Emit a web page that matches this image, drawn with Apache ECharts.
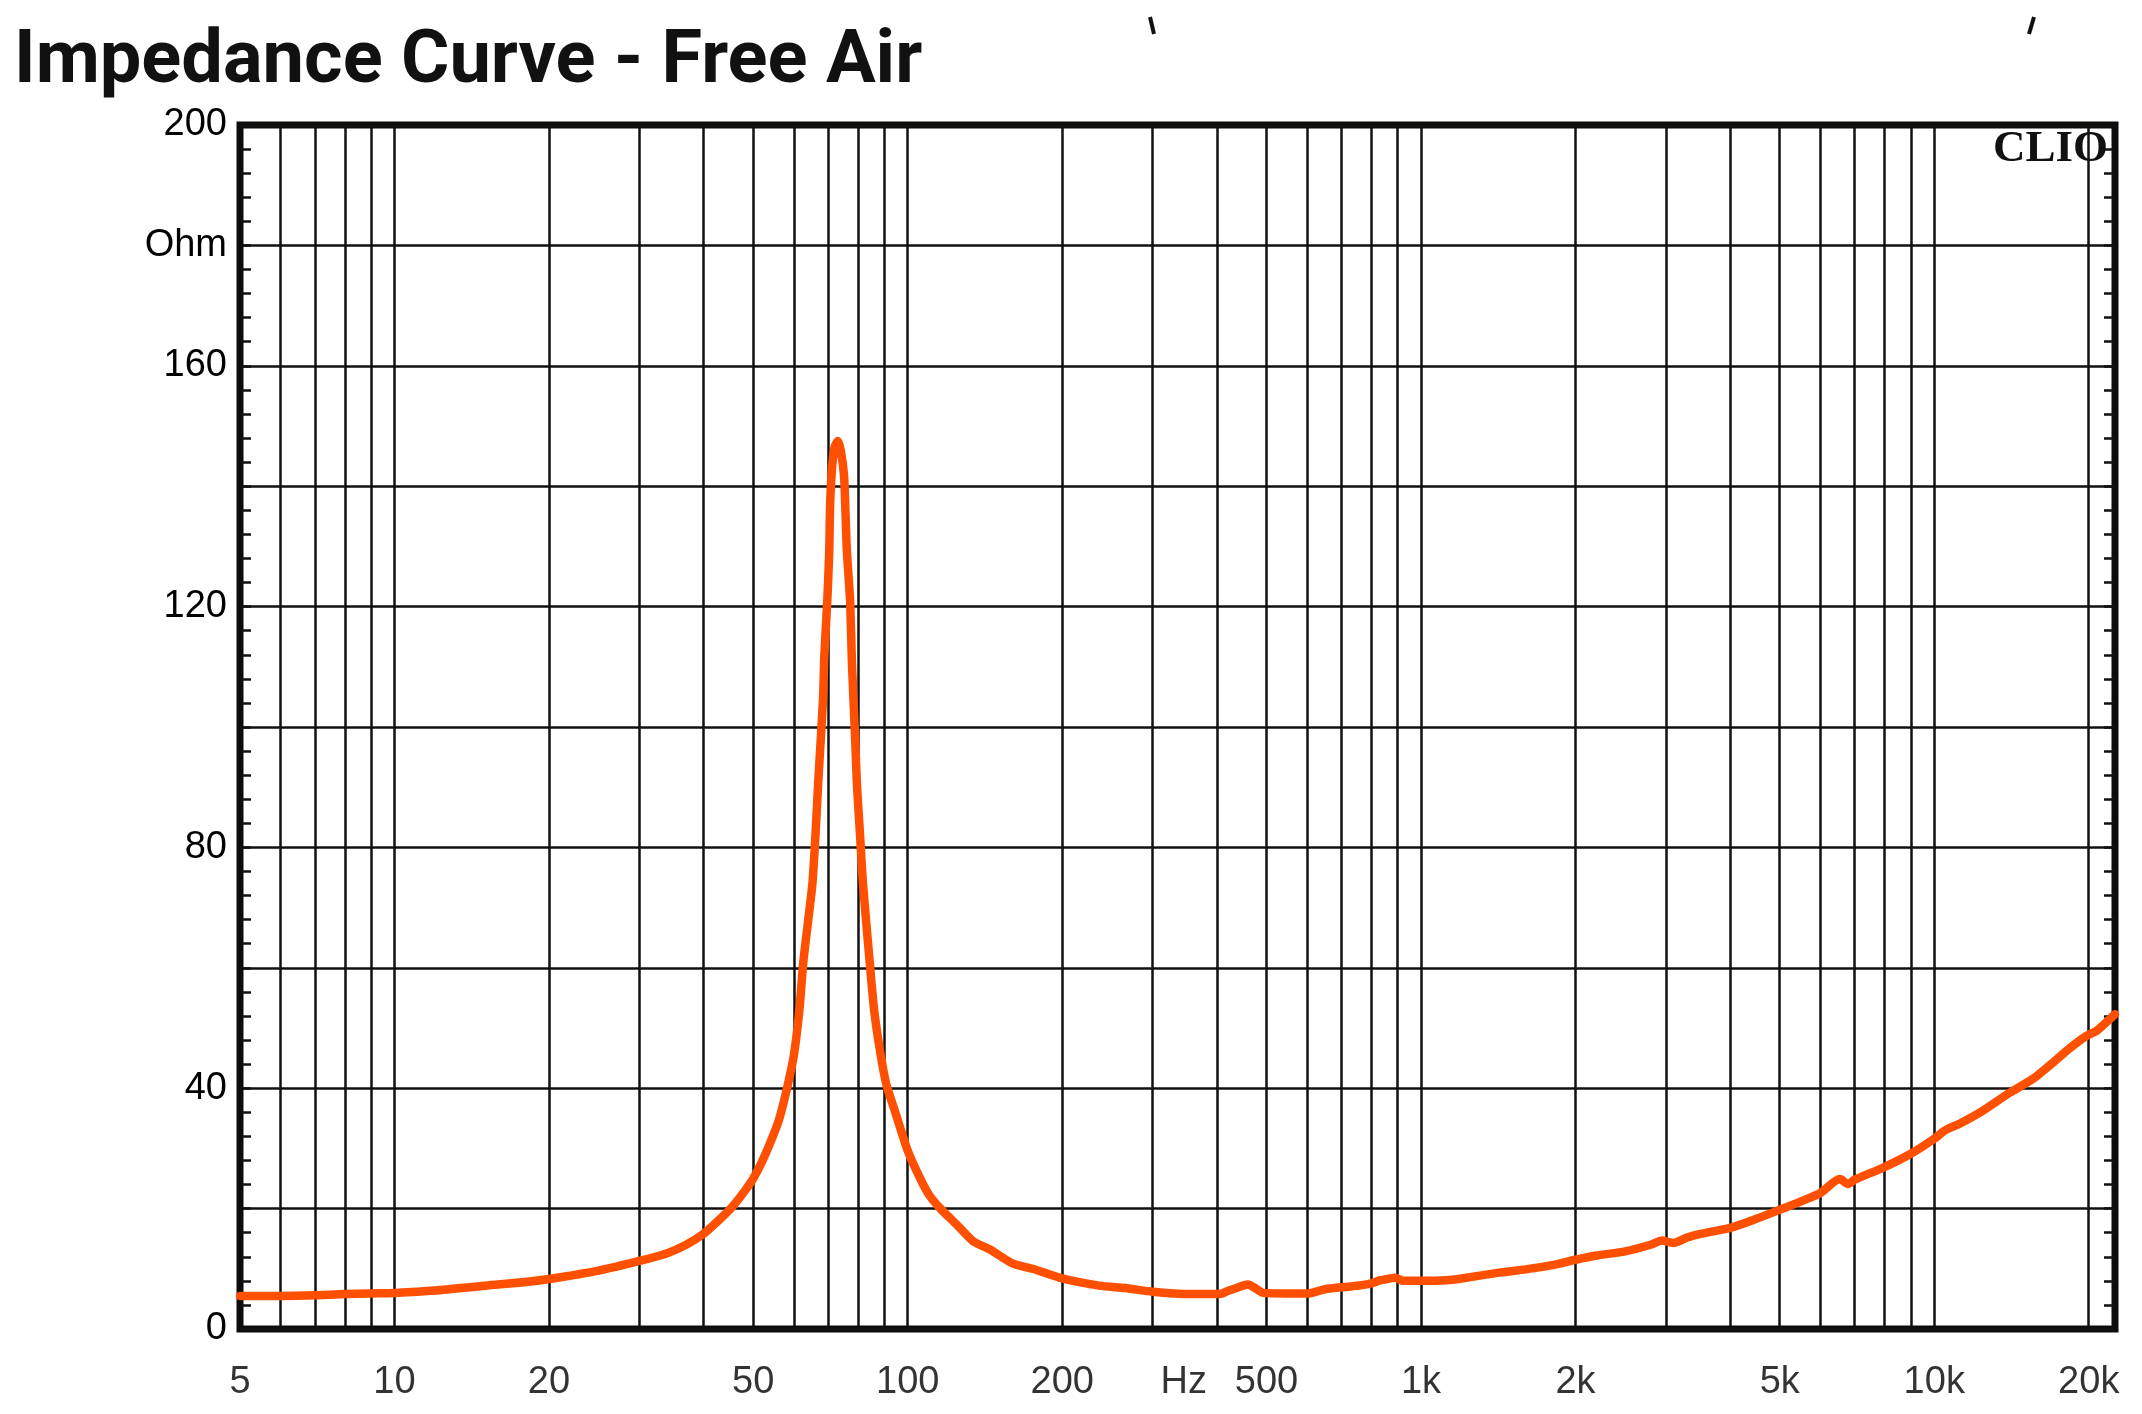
<!DOCTYPE html>
<html>
<head>
<meta charset="utf-8">
<script src="https://cdn.jsdelivr.net/npm/echarts@6/dist/echarts.min.js"></script>
<style>
html,body{margin:0;padding:0;background:#fff;}
#chart{width:2142px;height:1414px;}
</style>
</head>
<body>
<div id="chart"></div>
<script>
// ---- data ----
const freqHz = [5,6,7,8,9,10,12,15,18,20,25,30,34,37,40,42.5,45.5,48,50,52,54,56,58,60,61.5,62.6,64,65.2,66.1,66.9,67.8,68.4,68.8,69.7,70.3,70.6,71.2,72,73.1,74,75.1,75.5,76.1,77.2,77.9,78.9,79.6,80.7,81.8,84.3,86,88.3,90.8,94.4,100,105.6,110,115.5,125,134,144.6,160,175,200,236,265,300,330,360,406,420,440,460,475,493,550,600,650,735,793,835,872,890,925,1000,1120,1200,1431,1600,1800,2000,2200,2500,2800,2950,3100,3300,3500,4000,4500,5000,5500,6000,6550,6790,7000,8000,9000,10000,10500,11200,12400,14000,15600,17000,18400,19800,20700,22000,22500];
const impedanceOhm = [5.5,5.5,5.6,5.8,5.9,6.0,6.4,7.2,7.8,8.3,9.7,11.3,12.6,14.0,15.8,17.8,20.3,22.8,25.0,27.8,31.0,34.5,39.5,45.5,53,61,68,74,82,90.6,99,105,112,121,129,137,143,146.5,147.5,146,142,137.5,129.3,121,110,99,90.6,82.3,74,61,53,46.2,40.7,36.2,29.6,25.1,22.3,20.1,17.2,14.6,13.2,10.9,10.0,8.4,7.2,6.8,6.2,5.9,5.8,5.8,6.3,6.9,7.4,6.8,6.0,5.9,5.9,6.6,7.1,7.5,8.1,8.4,8.5,8.0,8.0,8.1,8.4,9.4,9.9,10.6,11.5,12.2,12.9,14.0,14.7,14.3,15.2,15.8,16.8,18.3,19.8,21.2,22.6,24.9,24.1,24.8,26.9,29.1,31.6,33.0,34.1,36.2,39.2,41.6,44.2,46.7,48.7,49.5,51.5,52.3];

// vertical grid lines (log decades)
const xGridValues = [6,7,8,9,10,20,30,40,50,60,70,80,90,100,200,300,400,500,600,700,800,900,1000,2000,3000,4000,5000,6000,7000,8000,9000,10000,20000];
// x tick labels
const xLabelValues = [5,10,20,50,100,200,345,500,1000,2000,5000,10000,20000];
const xLabelTexts  = ['5','10','20','50','100','200','Hz','500','1k','2k','5k','10k','20k'];
// y tick labels
const yLabelValues = [0,40,80,120,160,180,200];
const yLabelTexts  = ['0','40','80','120','160','Ohm','200'];

const X_MIN = 5, X_MAX = 22500, Y_MIN = 0, Y_MAX = 200, Y_STEP = 20;

const yLabelMap = {};
yLabelValues.forEach((v,i)=>{ yLabelMap[v] = yLabelTexts[i]; });
const xLabelMap = {};
xLabelValues.forEach((v,i)=>{ xLabelMap[v] = xLabelTexts[i]; });

const chart = echarts.init(document.getElementById('chart'), null, {renderer:'canvas'});
const GRID_COLOR = '#111';
const FONT = '"Liberation Sans", Arial, sans-serif';

const yAxisCommon = {
  type:'value', min:Y_MIN, max:Y_MAX, interval:Y_STEP,
  axisLine:{show:false},
  axisTick:{show:true, inside:true, length:11, lineStyle:{color:GRID_COLOR, width:2.5}},
  minorTick:{show:true, splitNumber:5, length:11, lineStyle:{color:GRID_COLOR, width:2.5}},
};

chart.setOption({
  animation:false,
  backgroundColor:'#fff',
  title:{
    text:'Impedance Curve - Free Air',
    left:9, top:21,
    textStyle:{fontFamily:'Roboto, "Liberation Sans", sans-serif', fontWeight:'bold', fontSize:74, color:'#111'}
  },
  grid:{left:240, right:27, top:125, bottom:85, show:true, borderColor:'#0c0d0b', borderWidth:7, backgroundColor:'transparent'},
  xAxis:{
    type:'log', min:X_MIN, max:X_MAX, logBase:10,
    axisLine:{show:false}, axisTick:{show:false}, axisLabel:{show:false}, splitLine:{show:false}
  },
  yAxis:[
    Object.assign({}, yAxisCommon, {
      position:'left',
      axisLabel:{show:true, margin:13, fontSize:38, color:'#000', fontFamily:FONT,
        formatter:function(v){ return yLabelMap[v] !== undefined ? yLabelMap[v] : ''; }},
      splitLine:{show:true, lineStyle:{color:GRID_COLOR, width:2.5}}
    }),
    Object.assign({}, yAxisCommon, {
      position:'right',
      axisLabel:{show:false},
      splitLine:{show:false}
    })
  ],
  graphic:[
    {type:'text', right:34, top:127, z:10,
      style:{text:'CLIO', font:'bold 45px "Liberation Serif", "Times New Roman", serif', fill:'#111'}},
    {type:'line', z:10, shape:{x1:1150, y1:17, x2:1154, y2:34}, style:{stroke:'#111', lineWidth:4}},
    {type:'line', z:10, shape:{x1:2034, y1:17, x2:2029, y2:34}, style:{stroke:'#111', lineWidth:4}}
  ],
  series:[
    {
      type:'line', name:'grid', data:[], silent:true,
      markLine:{
        silent:true, symbol:['none','none'], animation:false,
        label:{show:false},
        lineStyle:{color:GRID_COLOR, width:2.5, type:'solid'},
        emphasis:{disabled:true},
        data:xGridValues.map(v=>({xAxis:v}))
      }
    },
    {
      type:'line', name:'Impedance',
      data:freqHz.map((f,i)=>[f, impedanceOhm[i]]),
      showSymbol:false, smooth:0.25, z:5,
      lineStyle:{color:'#ff4f00', width:8.5, cap:'round', join:'round'}
    },
    {
      type:'scatter', name:'xlabels', silent:true,
      data:xLabelValues.map(v=>[v, Y_MIN]),
      symbolSize:1, itemStyle:{color:'rgba(0,0,0,0)'},
      label:{show:true, position:'bottom', distance:34, fontSize:38, color:'#000', fontFamily:FONT,
        formatter:function(p){ return xLabelMap[p.value[0]]; }}
    }
  ]
});
</script>
</body>
</html>
